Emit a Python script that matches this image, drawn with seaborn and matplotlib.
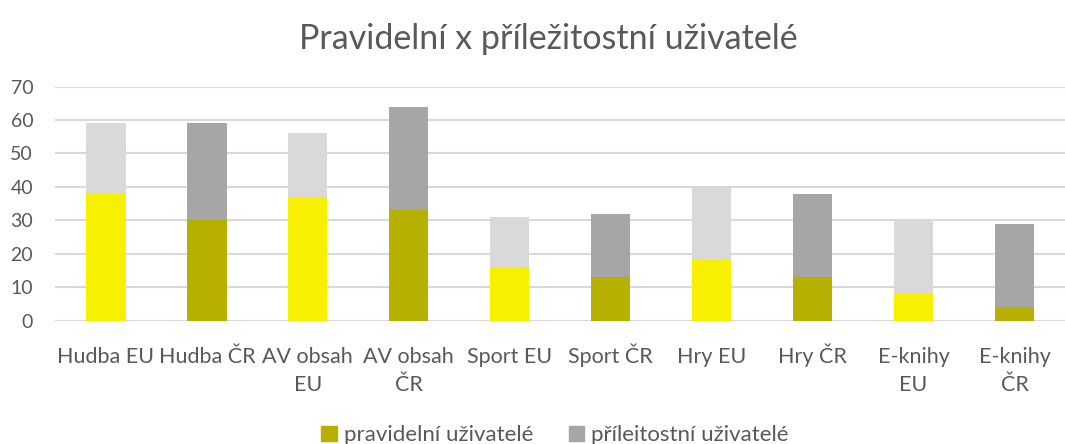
import pandas as pd
import matplotlib.pyplot as plt
import seaborn as sns
from matplotlib.patches import Patch

# Data
kategorie = ["Hudba EU", "Hudba ČR", "AV obsah\nEU", "AV obsah\nČR", "Sport EU",
             "Sport ČR", "Hry EU", "Hry ČR", "E-knihy\nEU", "E-knihy\nČR"]
pravidelni = [38, 30, 37, 33, 16, 13, 18, 13, 8, 4]
prilezitostni = [21, 29, 19, 31, 15, 19, 22, 25, 22, 25]

barvy_pravidelni = ["#F7F000", "#B8B000"] * 5
barvy_prilezitostni = ["#D9D9D9", "#A6A6A6"] * 5

df = pd.DataFrame({"kategorie": kategorie,
                   "pravidelni": pravidelni,
                   "prilezitostni": prilezitostni})
df["celkem"] = df["pravidelni"] + df["prilezitostni"]

sns.set_style("white")
plt.rcParams["font.family"] = ["Lato", "DejaVu Sans"]

fig = plt.figure(figsize=(10.65, 4.44), dpi=100)
ax = fig.add_axes([0.052, 0.278, 0.948, 0.527])

# Skládané sloupce: nejdřív celkem, přes to pravidelní
sns.barplot(data=df, x="kategorie", y="celkem", hue="kategorie",
            palette=barvy_prilezitostni, legend=False, width=0.39,
            saturation=1, linewidth=0, ax=ax)
sns.barplot(data=df, x="kategorie", y="pravidelni", hue="kategorie",
            palette=barvy_pravidelni, legend=False, width=0.39,
            saturation=1, linewidth=0, ax=ax)

ax.set_ylim(0, 70)
ax.set_yticks(range(0, 71, 10))
ax.yaxis.grid(True, color="#D9D9D9", linewidth=1.5)
ax.set_axisbelow(True)
for s in ax.spines.values():
    s.set_visible(False)
ax.tick_params(axis="both", length=0, labelcolor="#595959")
ax.tick_params(axis="x", pad=50.5, labelsize=15.5)
ax.tick_params(axis="y", pad=16, labelsize=14)

# všechny popisky dvouřádkové, aby první řádky seděly na stejné účaří
popisky = [k if "\n" in k else k + "\n " for k in kategorie]
ax.set_xticks(range(len(kategorie)))
ax.set_xticklabels(popisky, va="baseline", linespacing=1.46)
ax.set_xlabel("")
ax.set_ylabel("")

fig.suptitle("Pravidelní x příležitostní uživatelé", x=0.515, y=0.949,
             fontsize=24.5, color="#595959")

handles = [Patch(color="#B8B000", label="pravidelní uživatelé"),
           Patch(color="#A6A6A6", label="příleitostní uživatelé")]
fig.legend(handles=handles, loc="center", bbox_to_anchor=(0.521, 0.02),
           ncol=2, frameon=False, fontsize=16, labelcolor="#595959",
           handlelength=0.7, handleheight=0.7, handletextpad=0.3,
           columnspacing=1.6)

plt.savefig("out.png", dpi=100)
